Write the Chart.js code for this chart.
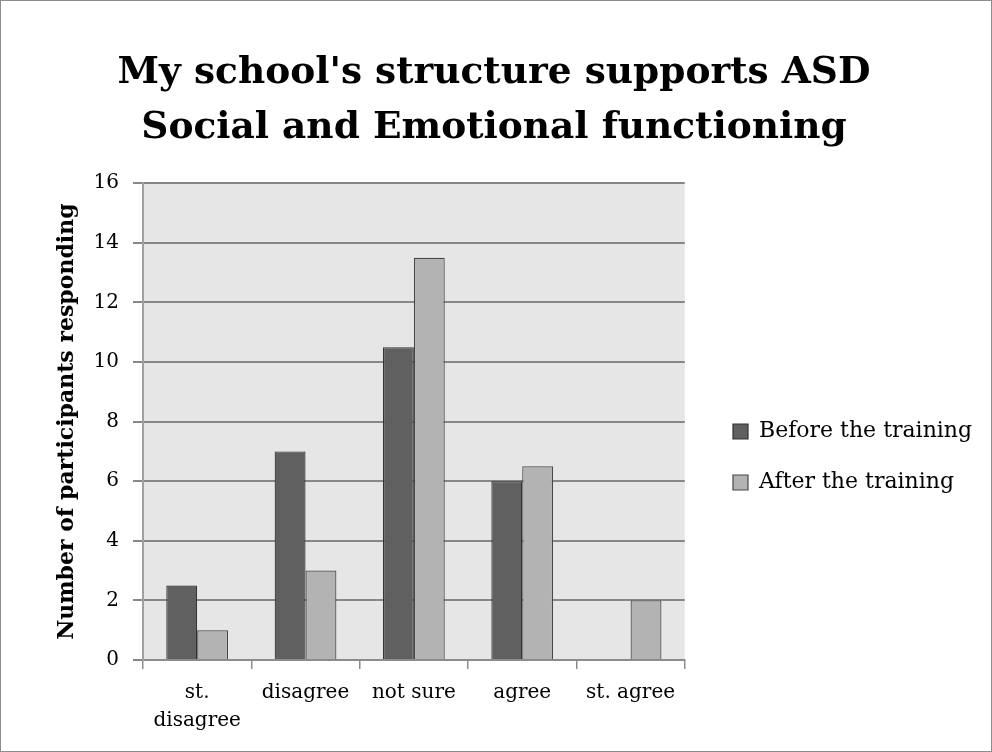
<!DOCTYPE html>
<html>
<head>
<meta charset="utf-8">
<script src="https://cdn.jsdelivr.net/npm/chart.js@4"></script>
<style>
  html, body { margin: 0; padding: 0; background: #fff; }
  #wrap { width: 992px; height: 752px; }
</style>
</head>
<body>
<div id="wrap"><canvas id="c" width="992" height="752"></canvas></div>
<script>
const categories = [['st.', 'disagree'], 'disagree', 'not sure', 'agree', 'st. agree'];
const beforeValues = [2.5, 7, 10.5, 6, 0];
const afterValues = [1, 3, 13.5, 6.5, 2];
const seriesNames = ['Before the training', 'After the training'];

const FONT = 'DejaVu Serif';

// grey plot background + outer frame
const frame = {
  id: 'frame',
  beforeDraw(chart) {
    const { ctx, chartArea: a } = chart;
    ctx.save();
    ctx.fillStyle = '#e6e6e6';
    ctx.fillRect(a.left, a.top, a.right - a.left, a.bottom - a.top);
    ctx.strokeStyle = '#8c8c8c';
    ctx.lineWidth = 1;
    ctx.strokeRect(0.5, 0.5, chart.width - 1, chart.height - 1);
    ctx.restore();
  },
  afterLayout(chart) {
    // nudge legend and title to where they sit in the original
    const lg = chart.legend;
    const dx = 733 - (lg.left + lg.options.labels.padding);
    lg.left += dx;
    lg.right = chart.width;
    lg.top += 81; lg.bottom += 81;
    const tb = chart.titleBlock;
    tb.left = 0; tb.right = 988;
  }
};

new Chart(document.getElementById('c'), {
  type: 'bar',
  data: {
    labels: categories,
    datasets: [{
      label: seriesNames[0],
      data: beforeValues,
      backgroundColor: '#606060',
      borderColor: '#333',
      borderWidth: 1.2,
    }, {
      label: seriesNames[1],
      data: afterValues,
      backgroundColor: '#b3b3b3',
      borderColor: '#484848',
      borderWidth: 1.2,
    }],
  },
  options: {
    responsive: false,
    animation: false,
    layout: { padding: { left: 0, right: 79, top: 0, bottom: 0 } },
    datasets: { bar: { categoryPercentage: 0.57, barPercentage: 1 } },
    plugins: {
      title: {
        display: true,
        text: ["My school's structure supports ASD", 'Social and Emotional functioning'],
        font: { family: FONT, size: 37.5, weight: 'bold', lineHeight: 1.47 },
        color: '#000',
        padding: { top: 46, bottom: 27 },
      },
      legend: {
        position: 'right',
        labels: {
          boxWidth: 15, boxHeight: 15, padding: 29,
          font: { family: FONT, size: 22 }, color: '#000',
        },
      },
      tooltip: { enabled: false },
    },
    scales: {
      x: {
        grid: { offset: true, drawOnChartArea: false, drawTicks: true, tickLength: 9, color: '#8c8c8c', lineWidth: 1.5 },
        border: { color: '#8c8c8c', width: 2 },
        ticks: { font: { family: FONT, size: 20, lineHeight: 1.4 }, color: '#000', padding: 10, maxRotation: 0 },
        afterFit(s) { s.height = 92; },
      },
      y: {
        min: 0, max: 16,
        ticks: { stepSize: 2, font: { family: FONT, size: 20 }, color: '#000', padding: 14 },
        grid: { color: '#878787', lineWidth: 2, tickLength: 10 },
        border: { color: '#a0a0a0', width: 2 },
        title: {
          display: true, text: 'Number of participants responding',
          font: { family: FONT, size: 22, weight: 'bold' }, color: '#000',
          padding: { top: 54, bottom: 4 },
        },
        afterFit(s) { s.width = 143; },
      },
    },
  },
  plugins: [frame],
});
</script>
</body>
</html>
